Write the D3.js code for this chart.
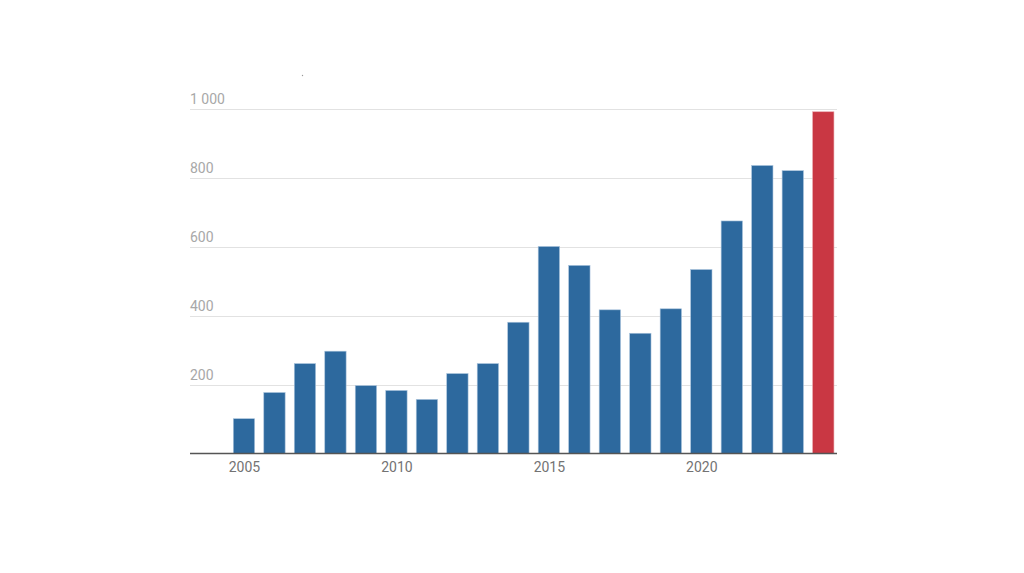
<!DOCTYPE html>
<html>
<head>
<meta charset="utf-8">
<script src="https://cdn.jsdelivr.net/npm/d3@7"></script>
<style>
  html, body { margin: 0; padding: 0; background: #fff; }
  svg { display: block; font-family: Roboto, "Noto Sans", sans-serif; }
</style>
</head>
<body>
<svg id="chart" width="1024" height="573"></svg>
<script>
const years = [2005, 2006, 2007, 2008, 2009, 2010, 2011, 2012, 2013, 2014,
               2015, 2016, 2017, 2018, 2019, 2020, 2021, 2022, 2023, 2024];
const values = [101, 177, 261, 297, 197, 183, 157, 232, 261, 381,
                601, 546, 417, 349, 420, 534, 675, 836, 821, 992];
const highlightYears = [2024];
const yTicks = [200, 400, 600, 800, 1000];
const xTicks = [2005, 2010, 2015, 2020];

(function () {
const svg = d3.select("#chart");
const mLeft = 190, mRight = 837, mTop = 109, mBottom = 453.5;

const x = d3.scaleLinear().domain([2003.23, 2024.45]).range([mLeft, mRight]);
const y = d3.scaleLinear().domain([0, 1000]).range([mBottom, mTop]);
const step = x(2006) - x(2005);
const barW = step * 0.70;

const fmt = v => d3.format(",")(v).replace(/,/g, " ");

// gridlines
const grid = svg.append("g");
grid.selectAll("line").data(yTicks).join("line")
  .attr("x1", mLeft).attr("x2", mRight)
  .attr("y1", d => Math.round(y(d)) + 0.5).attr("y2", d => Math.round(y(d)) + 0.5)
  .attr("stroke", "#e2e2e2").attr("stroke-width", 1);
grid.selectAll("text").data(yTicks).join("text")
  .attr("x", mLeft).attr("y", d => y(d) - 5)
  .attr("fill", "#a8a8a8").attr("font-size", 14)
  .text(d => fmt(d));

// bars
svg.append("g").selectAll("rect").data(years).join("rect")
  .attr("x", d => x(d) - barW / 2)
  .attr("width", barW)
  .attr("y", (d, i) => y(values[i]))
  .attr("height", (d, i) => y(0) - y(values[i]))
  .attr("fill", d => highlightYears.includes(d) ? "#c93743" : "#2d699e")
  .attr("stroke", d => highlightYears.includes(d) ? "#e9a7ad" : "#a9c3dc")
  .attr("stroke-width", 0.6);

// x axis
const xAxis = d3.axisBottom(x).tickValues(xTicks).tickFormat(d3.format("d")).tickSize(0).tickPadding(9);
const gx = svg.append("g").attr("transform", `translate(0,${mBottom})`).call(xAxis);
gx.select(".domain").remove();
gx.selectAll("text").attr("fill", "#737373").attr("font-size", 14)
  .attr("font-family", "Roboto, 'Noto Sans', sans-serif");
svg.append("line").attr("x1", mLeft).attr("x2", mRight)
  .attr("y1", mBottom).attr("y2", mBottom)
  .attr("stroke", "#555").attr("stroke-width", 1.4);

// small stray mark near top
svg.append("circle").attr("cx", 302.5).attr("cy", 75.5).attr("r", 0.7).attr("fill", "#999");
})();
</script>
</body>
</html>
